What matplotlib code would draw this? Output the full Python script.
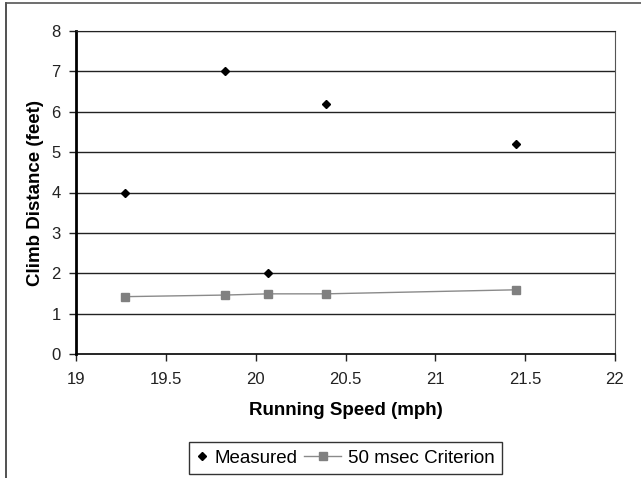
import matplotlib
matplotlib.use('Agg')
from matplotlib import pyplot as plt
from matplotlib.lines import Line2D
from matplotlib.legend_handler import HandlerLine2D

plt.rcParams['font.family'] = ['Liberation Sans', 'DejaVu Sans']

# data
measured_speed = [19.27, 19.83, 20.07, 20.39, 21.45]
measured_climb = [4.0, 7.0, 2.0, 6.2, 5.2]
criterion_speed = [19.27, 19.83, 20.07, 20.39, 21.45]
criterion_climb = [1.42, 1.46, 1.49, 1.49, 1.59]

x_ticks = [19, 19.5, 20, 20.5, 21, 21.5, 22]
x_tick_labels = ['19', '19.5', '20', '20.5', '21', '21.5', '22']
y_ticks = [0, 1, 2, 3, 4, 5, 6, 7, 8]

LABEL_SIZE = 13.5


class WideLineHandler(HandlerLine2D):
    # draws the line sample further to the left than its slot, like Excel's legend
    def create_artists(self, legend, orig_handle, xdescent, ydescent, width, height,
                       fontsize, trans):
        extra = 1.35 * fontsize
        return super().create_artists(legend, orig_handle, xdescent + extra, ydescent,
                                      width + extra, height, fontsize, trans)


fig = plt.figure(figsize=(6.41, 4.78), dpi=100)

# outer frame (only left and top edges visible in the reference)
fig.add_artist(Line2D([6 / 641, 6 / 641], [0, 1 - 3 / 478], transform=fig.transFigure,
                      color='#333333', lw=1.2))
fig.add_artist(Line2D([6 / 641, 1], [1 - 3 / 478, 1 - 3 / 478], transform=fig.transFigure,
                      color='#555555', lw=1.2))

ax = fig.add_axes([76 / 641, 1 - 354 / 478, (615 - 76) / 641, (354 - 31) / 478])

for y in y_ticks[1:]:
    ax.axhline(y, color='#222222', lw=1.0, zorder=1)

ax.plot(measured_speed, measured_climb, linestyle='none', marker='D', markersize=4.5,
        color='black', label='Measured', zorder=3)
crit_line, = ax.plot(criterion_speed, criterion_climb, color='#8a8a8a', lw=1.0, marker='s',
                     markersize=6, markerfacecolor='#808080', markeredgecolor='#808080',
                     label='50 msec Criterion', zorder=2)

ax.set_xlim(19, 22)
ax.set_ylim(0, 8)
ax.set_xticks(x_ticks)
ax.set_xticklabels(x_tick_labels)
ax.set_yticks(y_ticks)
ax.tick_params(axis='both', labelsize=12, colors='#222222', width=1, length=5)
ax.tick_params(axis='x', direction='out', pad=8)
ax.tick_params(axis='y', direction='out', pad=6)

ax.spines['left'].set_linewidth(2)
ax.spines['left'].set_color('black')
ax.spines['bottom'].set_linewidth(1.2)
ax.spines['bottom'].set_color('black')
ax.spines['top'].set_color('#222222')
ax.spines['right'].set_color('#555555')

ax.set_xlabel('Running Speed (mph)', fontsize=LABEL_SIZE, fontweight='bold', labelpad=11)
ax.set_ylabel('Climb Distance (feet)', fontsize=LABEL_SIZE, fontweight='bold', labelpad=5)

leg = ax.legend(loc='upper center', bbox_to_anchor=(0.5, -0.2724), ncol=2,
                fontsize=LABEL_SIZE, frameon=True, fancybox=False, edgecolor='black',
                handlelength=0.6, columnspacing=1.7, handletextpad=0.37,
                borderpad=0.4, borderaxespad=0,
                handler_map={crit_line: WideLineHandler()})
leg.get_frame().set_linewidth(1.0)

fig.savefig('out.png', dpi=100)
